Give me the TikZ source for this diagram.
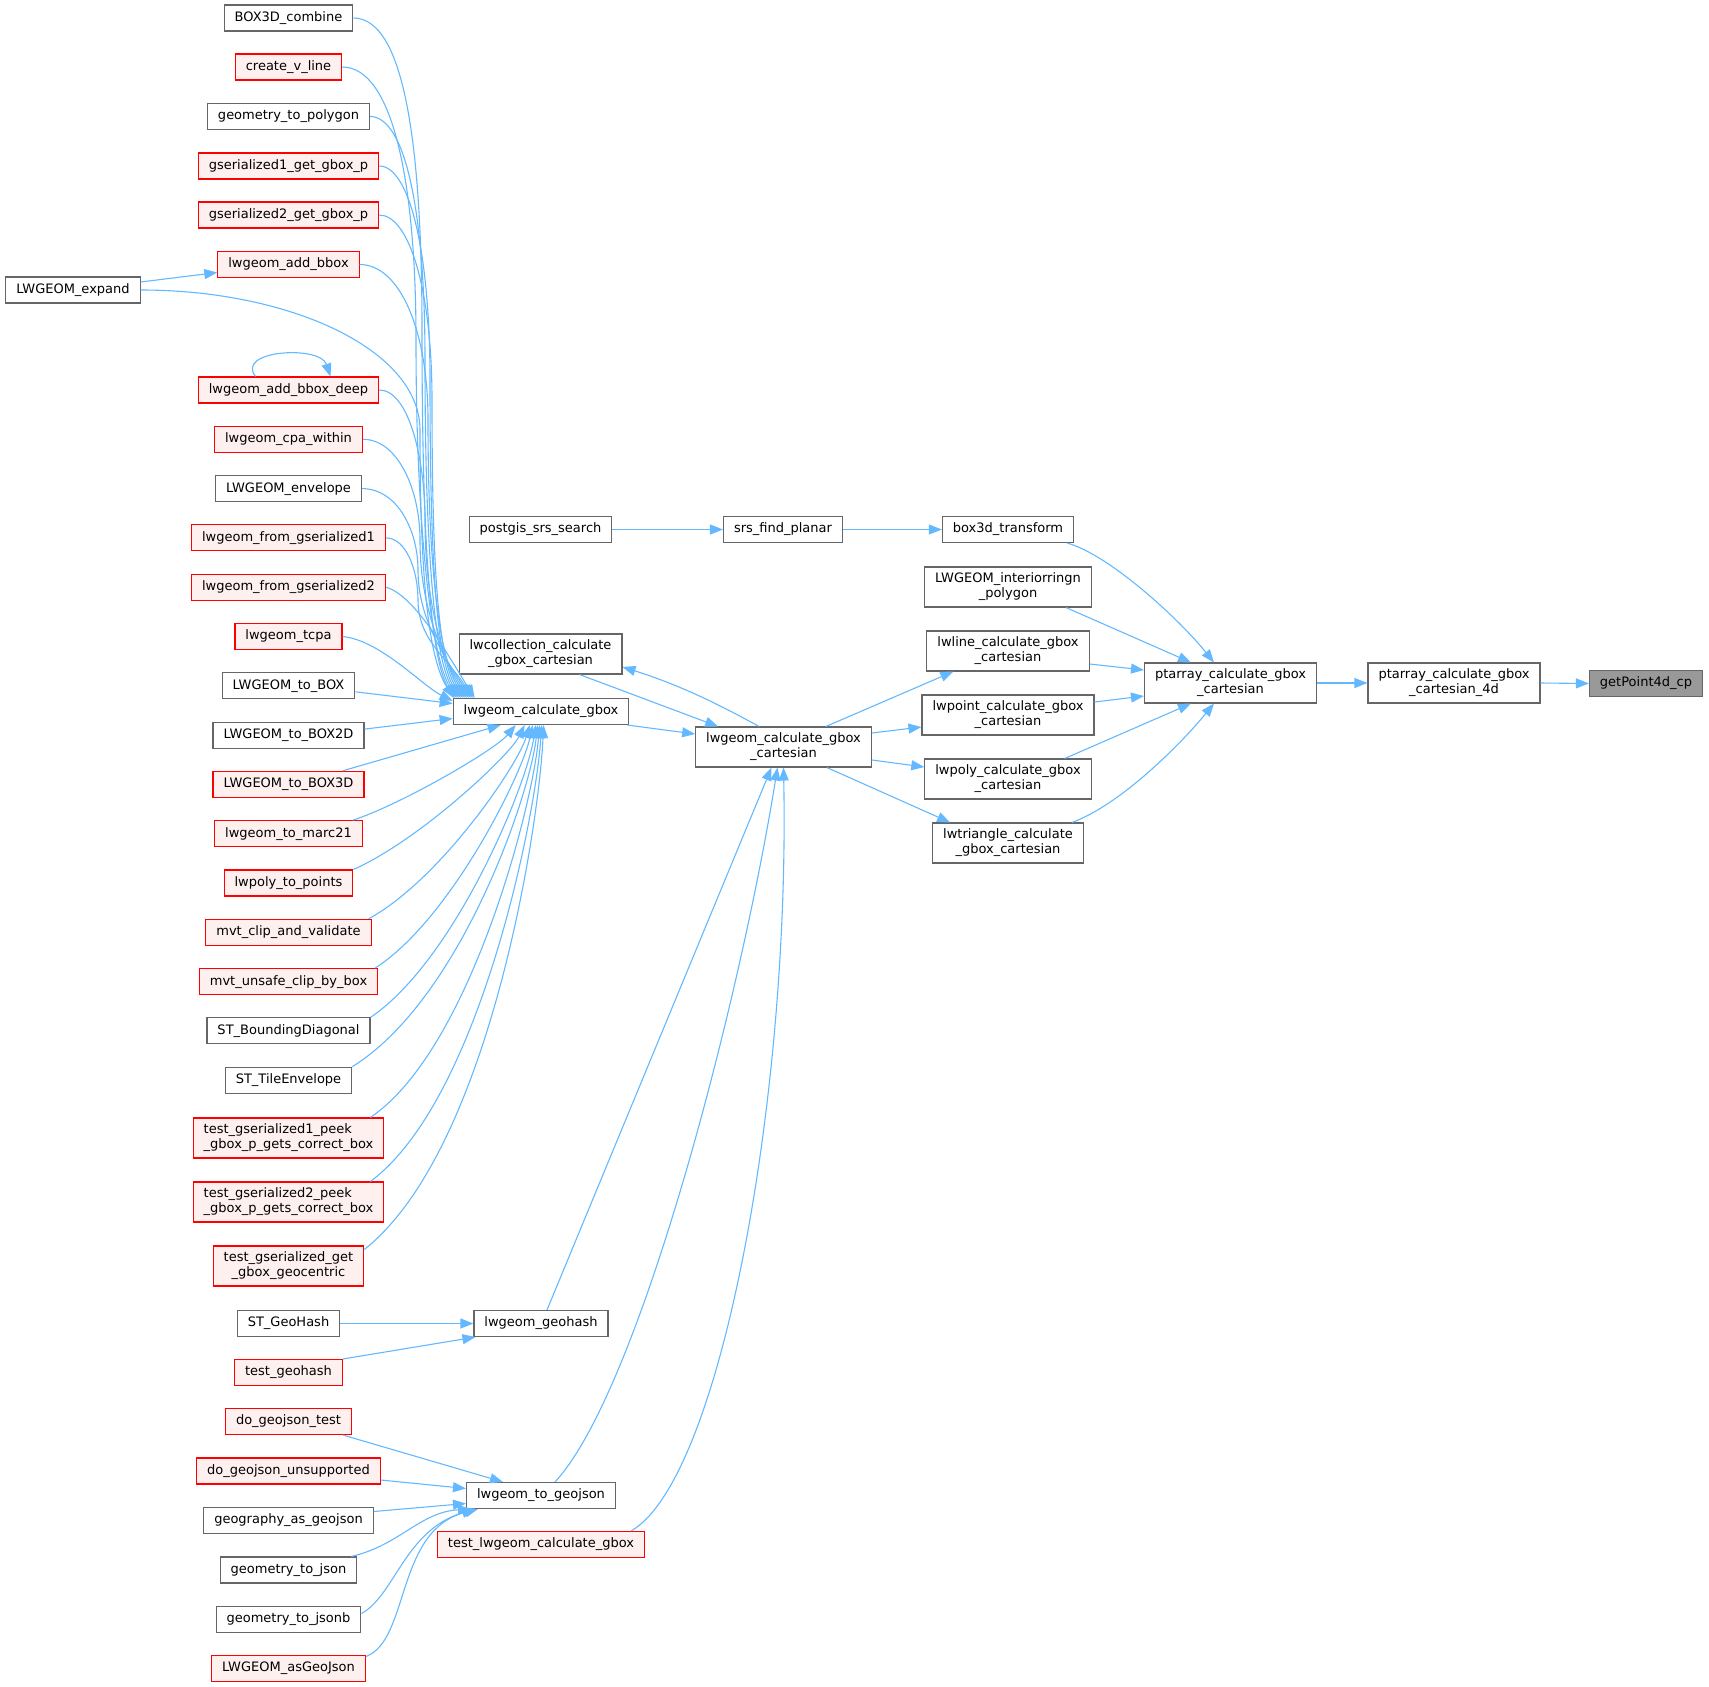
\documentclass[tikz,border=0pt]{standalone}
\usepackage{fontspec}
\setmainfont{DejaVu Sans}
\usetikzlibrary{arrows.meta,calc}
\definecolor{edgeblue}{HTML}{63B8FF}
\definecolor{ngray}{HTML}{666666}
\definecolor{nred}{HTML}{FF0000}
\definecolor{npink}{HTML}{FFF0F0}
\definecolor{nhl}{HTML}{999999}
\tikzset{
  base/.style={draw=ngray, line width=1.1pt, fill=white, inner xsep=10.5pt, inner ysep=6pt,
    minimum height=26pt, align=center, font=\fontsize{13}{15}\selectfont},
  gn/.style={base},
  rn/.style={base, draw=nred, fill=npink},
  hn/.style={base, fill=nhl},
  edge/.style={draw=edgeblue, line width=1.1pt, -{Triangle[length=13pt,width=10pt]}}
}
\newcommand{\upedge}[7]{%
  \draw[edge] (#1.east) .. controls ($(#1.east)+(#2,0)$) and (#3,#4-#5) .. (#3,#4)
    .. controls (#3,#4+#6) and ($(lgb.north west)+(#7-25,-40)$) .. ($(lgb.north west)+(#7,0)$);}
\begin{document}
\begin{tikzpicture}[x=1pt,y=-1pt]
\useasboundingbox (0,0) rectangle (1709,1687);
% left column
\node[gn] (box3dc) at (288.5,18) {BOX3D\_combine};
\node[rn] (cvl) at (288.5,67) {create\_v\_line};
\node[gn] (g2p) at (288.5,116.5) {geometry\_to\_polygon};
\node[rn] (gs1) at (288.5,166) {gserialized1\_get\_gbox\_p};
\node[rn] (gs2) at (288.5,215) {gserialized2\_get\_gbox\_p};
\node[rn] (addbb) at (288.5,264.5) {lwgeom\_add\_bbox};
\node[gn] (expand) at (73,290) {LWGEOM\_expand};
\node[rn] (deep) at (288.5,390) {lwgeom\_add\_bbox\_deep};
\node[rn] (cpa) at (288.5,439.3) {lwgeom\_cpa\_within};
\node[gn] (env) at (288.5,488.6) {LWGEOM\_envelope};
\node[rn] (fg1) at (288.5,537.9) {lwgeom\_from\_gserialized1};
\node[rn] (fg2) at (288.5,587.2) {lwgeom\_from\_gserialized2};
\node[rn] (tcpa) at (288.5,636.5) {lwgeom\_tcpa};
\node[gn] (tobox) at (288.5,685.8) {LWGEOM\_to\_BOX};
\node[gn] (tobox2) at (288.5,735.1) {LWGEOM\_to\_BOX2D};
\node[rn] (tobox3) at (288.5,784.4) {LWGEOM\_to\_BOX3D};
\node[rn] (marc) at (288.5,833.7) {lwgeom\_to\_marc21};
\node[rn] (l2p) at (288.5,883) {lwpoly\_to\_points};
\node[rn] (mvtc) at (288.5,932.3) {mvt\_clip\_and\_validate};
\node[rn] (mvtu) at (288.5,981.6) {mvt\_unsafe\_clip\_by\_box};
\node[gn] (stbd) at (288.5,1030.9) {ST\_BoundingDiagonal};
\node[gn] (stte) at (288.5,1080.2) {ST\_TileEnvelope};
\node[rn,align=left] (tg1) at (288.5,1138) {test\_gserialized1\_peek\\\_gbox\_p\_gets\_correct\_box};
\node[rn,align=left] (tg2) at (288.5,1202) {test\_gserialized2\_peek\\\_gbox\_p\_gets\_correct\_box};
\node[rn] (tgg) at (288.5,1266) {test\_gserialized\_get\\\_gbox\_geocentric};
\node[gn] (stgh) at (288.5,1323.5) {ST\_GeoHash};
\node[rn] (tgh) at (288.5,1372.5) {test\_geohash};
\node[rn] (djt) at (288.5,1421.5) {do\_geojson\_test};
\node[rn] (dju) at (288.5,1471) {do\_geojson\_unsupported};
\node[gn] (gag) at (288.5,1520.5) {geography\_as\_geojson};
\node[gn] (g2j) at (288.5,1570) {geometry\_to\_json};
\node[gn] (g2jb) at (288.5,1619.5) {geometry\_to\_jsonb};
\node[rn] (asgj) at (288.5,1668.5) {LWGEOM\_asGeoJson};
% middle
\node[gn] (pss) at (540.5,529.5) {postgis\_srs\_search};
\node[gn] (lcoll) at (540.5,654) {lwcollection\_calculate\\\_gbox\_cartesian};
\node[gn] (lgb) at (541,711.5) {lwgeom\_calculate\_gbox};
\node[gn] (geoh) at (541,1323.5) {lwgeom\_geohash};
\node[gn] (togj) at (541,1495.5) {lwgeom\_to\_geojson};
\node[rn] (tlcg) at (541,1544.5) {test\_lwgeom\_calculate\_gbox};
\node[gn] (sfp) at (783,529.5) {srs\_find\_planar};
\node[gn] (lcart) at (783.5,747) {lwgeom\_calculate\_gbox\\\_cartesian};
\node[gn] (b3t) at (1008,529.5) {box3d\_transform};
\node[gn] (ring) at (1008,587) {LWGEOM\_interiorringn\\\_polygon};
\node[gn] (lline) at (1008,651) {lwline\_calculate\_gbox\\\_cartesian};
\node[gn] (lpoint) at (1008,715) {lwpoint\_calculate\_gbox\\\_cartesian};
\node[gn] (lpoly) at (1008,779) {lwpoly\_calculate\_gbox\\\_cartesian};
\node[gn] (ltri) at (1008,843) {lwtriangle\_calculate\\\_gbox\_cartesian};
\node[gn] (pcart) at (1230.5,683) {ptarray\_calculate\_gbox\\\_cartesian};
\node[gn] (p4d) at (1454,683) {ptarray\_calculate\_gbox\\\_cartesian\_4d};
\node[hn] (gp4) at (1646,683.5) {getPoint4d\_cp};
% right edges
\draw[edge] (p4d.east) -- (gp4.west);
\draw[edge] (pcart.east) -- (p4d.west);
\draw[edge] ($(b3t.south east)+(-7,0)$) .. controls (1110,555) and (1180,620) .. ($(pcart.north west)+(70,0)$);
\draw[edge] ($(ring.south east)+(-26,0)$) -- ($(pcart.north west)+(47,0)$);
\draw[edge] ($(lline.east)+(0,13)$) -- ($(pcart.west)+(0,-13)$);
\draw[edge] ($(lpoint.east)+(0,-13)$) -- ($(pcart.west)+(0,13)$);
\draw[edge] ($(lpoly.north east)+(-27,0)$) -- ($(pcart.south west)+(47,0)$);
\draw[edge] ($(ltri.north east)+(-12,0)$) .. controls (1120,805) and (1180,745) .. ($(pcart.south west)+(70,0)$);
\draw[edge] ($(lcart.north east)+(-46,0)$) -- ($(lline.south west)+(27,0)$);
\draw[edge] ($(lcart.east)+(0,-14)$) -- ($(lpoint.west)+(0,12)$);
\draw[edge] ($(lcart.east)+(0,13)$) -- ($(lpoly.west)+(0,-12)$);
\draw[edge] ($(lcart.south east)+(-45,0)$) -- ($(ltri.north west)+(18,0)$);
\draw[edge] ($(lcart.north west)+(64,0)$) .. controls (720,705) and (680,685) .. ($(lcoll.east)+(0,13)$);
\draw[edge] ($(lcoll.south west)+(121,0)$) -- ($(lcart.north west)+(23,0)$);
\draw[edge] ($(lgb.south east)+(-2,0)$) -- ($(lcart.west)+(0,-13)$);
\draw[edge] ($(geoh.north)+(6,0)$) -- ($(lcart.south)+(-12,0)$);
\draw[edge] ($(togj.north)+(14,0)$) .. controls (640,1390) and (740,1000) .. ($(lcart.south)+(-6,0)$);
\draw[edge] ($(tlcg.north east)+(-14,0)$) .. controls (720,1480) and (790,1100) .. (lcart.south);
\draw[edge] (pss.east) -- (sfp.west);
\draw[edge] (sfp.east) -- (b3t.west);
% left upper group
\upedge{box3dc}{50}{422}{330}{190}{200}{2}
\upedge{cvl}{50}{416}{340}{160}{190}{4}
\upedge{g2p}{35}{425}{360}{150}{180}{6}
\upedge{gs1}{30}{430}{380}{130}{170}{8}
\upedge{gs2}{30}{432}{400}{110}{160}{10}
\upedge{addbb}{40}{428}{420}{90}{150}{12}
\upedge{expand}{150}{420}{430}{80}{150}{1}
\upedge{deep}{30}{425}{520}{60}{80}{14}
\upedge{cpa}{35}{420}{540}{50}{70}{16}
\upedge{env}{35}{418}{570}{40}{50}{18}
\upedge{fg1}{20}{418}{600}{30}{40}{20}
\draw[edge] (fg2.east) .. controls (415,595) and ($(lgb.north west)+(-3,-40)$) .. ($(lgb.north west)+(22,0)$);
\draw[edge] (tcpa.east) .. controls (380,640) and ($(lgb.north west)+(-30,-12)$) .. ($(lgb.north west)+(0,3)$);
\draw[edge] ($(tobox.east)+(0,6)$) -- ($(lgb.west)+(0,-8)$);
\draw[edge] ($(tobox2.east)+(0,-6)$) -- ($(lgb.west)+(0,7)$);
\draw[edge] ($(expand.east)+(0,-8)$) -- ($(addbb.west)+(0,8)$);
\draw[edge] ($(deep.north)+(-33,0)$) .. controls (235,350) and (320,345) .. ($(deep.north)+(42,0)$);
% left lower group
\draw[edge] ($(tobox3.north east)+(-22,0)$) -- ($(lgb.south west)+(48,0)$);
\draw[edge] ($(marc.north east)+(-10,0)$) .. controls (400,805) and (495,750) .. ($(lgb.south west)+(63,0)$);
\draw[edge] (l2p.north east) .. controls (420,840) and (510,755) .. ($(lgb.south west)+(72,0)$);
\draw[edge] ($(mvtc.north east)+(-3,0)$) .. controls (440,880) and (518,765) .. ($(lgb.south west)+(77,0)$);
\draw[edge] ($(mvtu.north east)+(-3,0)$) .. controls (450,920) and (522,775) .. ($(lgb.south west)+(80,0)$);
\draw[edge] (stbd.north east) .. controls (455,960) and (527,785) .. ($(lgb.south west)+(83,0)$);
\draw[edge] (stte.north east) .. controls (460,1000) and (530,795) .. ($(lgb.south west)+(85,0)$);
\draw[edge] ($(tg1.north east)+(-14,0)$) .. controls (470,1050) and (533,805) .. ($(lgb.south west)+(87,0)$);
\draw[edge] ($(tg2.north east)+(-14,0)$) .. controls (480,1100) and (536,815) .. ($(lgb.south west)+(89,0)$);
\draw[edge] ($(tgg.north east)+(0,4)$) .. controls (490,1150) and (539,825) .. ($(lgb.south west)+(91,0)$);
% geohash / geojson
\draw[edge] (stgh.east) -- (geoh.west);
\draw[edge] (tgh.north east) -- ($(geoh.south west)+(2,0)$);
\draw[edge] ($(djt.south east)+(-9,0)$) -- ($(togj.north west)+(37,0)$);
\draw[edge] ($(dju.east)+(0,9)$) -- ($(togj.west)+(0,-7)$);
\draw[edge] ($(gag.east)+(0,-9)$) -- ($(togj.west)+(0,8)$);
\draw[edge] ($(g2j.north east)+(-6,0)$) .. controls (400,1545) and (420,1512) .. ($(togj.south west)+(5,0)$);
\draw[edge] ($(g2jb.east)+(0,-6)$) .. controls (395,1595) and (405,1530) .. ($(togj.south west)+(9,0)$);
\draw[edge] ($(asgj.east)+(0,-12)$) .. controls (410,1640) and (395,1530) .. ($(togj.south west)+(12,0)$);
\end{tikzpicture}
\end{document}
